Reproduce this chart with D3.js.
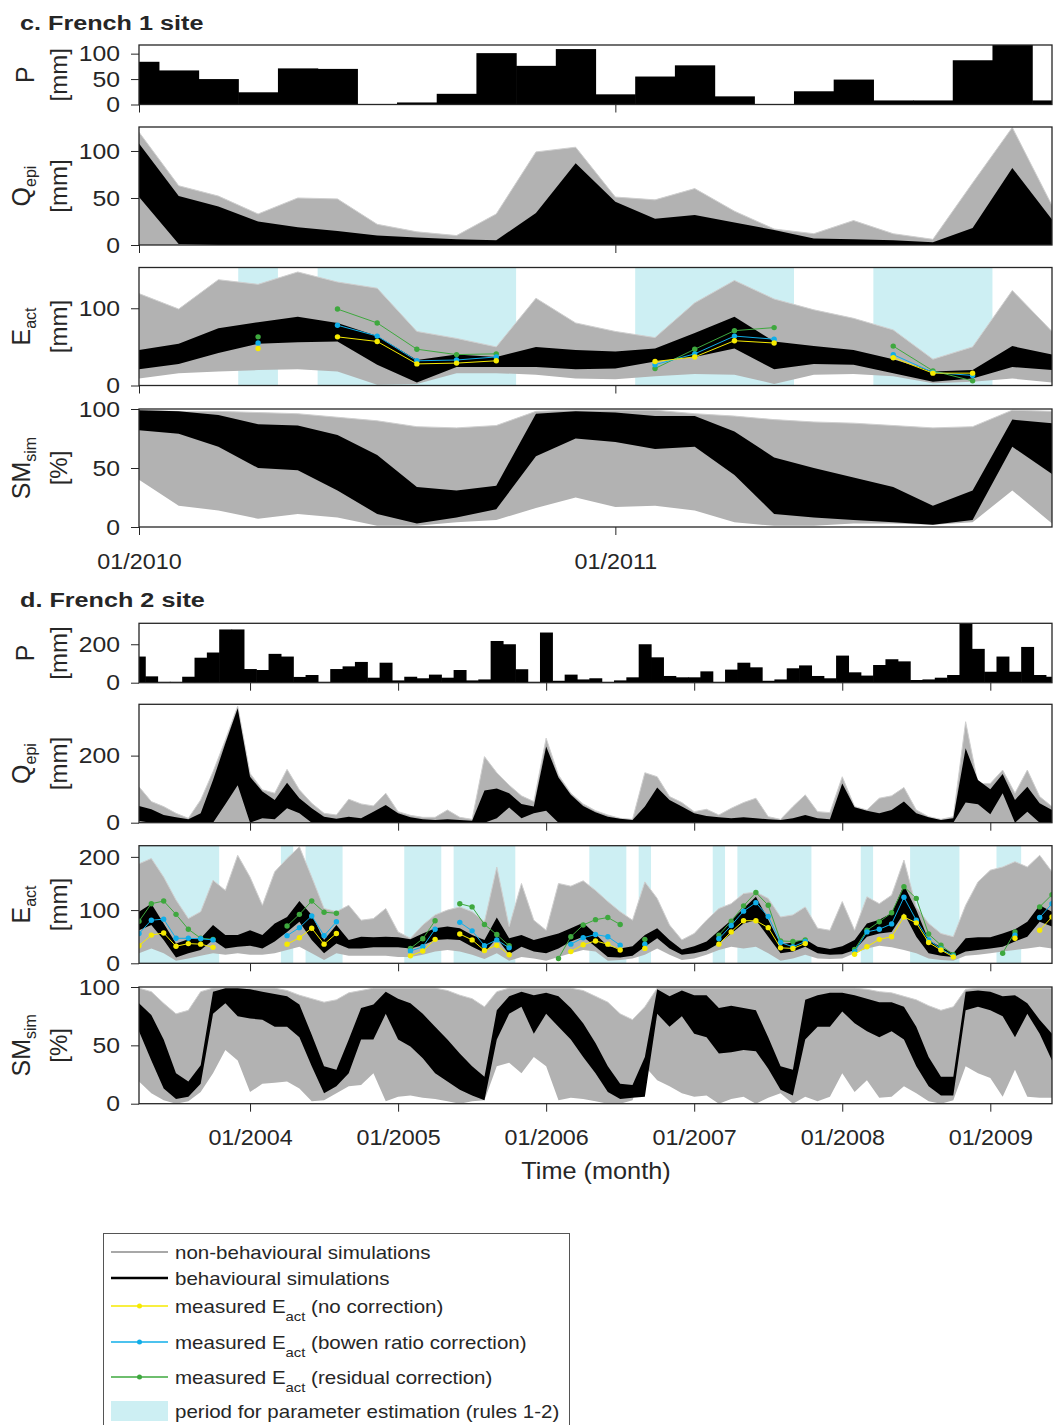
<!DOCTYPE html>
<html>
<head>
<meta charset="utf-8">
<script src="https://cdn.jsdelivr.net/npm/d3@7"></script>
<style>
  body { margin: 0; background: #fff; }
  svg text { font-family: "Liberation Sans", Arial, Helvetica, sans-serif; fill: #262626; }
</style>
</head>
<body>
<svg id="fig" width="1059" height="1425"></svg>
<script>
const _ = null;

// ---------- c. French 1 site : monthly, 01/2010 .. 12/2011 ----------
const cXTicks = [0, 12];
const cXLabels = ["01/2010", "01/2011"];

const cP = [84, 67, 50, 24, 71, 70, 1, 4, 21, 101, 76, 109, 20, 55, 77, 16, 1, 26, 49, 8, 8, 87, 125, 8];

const cQepiGrayHi  = [120, 63, 52, 33, 50, 49, 22, 14, 10, 33, 99, 104, 51, 48, 60, 36, 17, 12, 26, 12, 6, 66, 125, 42];
const cQepiGrayLo  = [0, 0, 0, 0, 0, 0, 0, 0, 0, 0, 0, 0, 0, 0, 0, 0, 0, 0, 0, 0, 0, 0, 0, 0];
const cQepiBlackHi = [108, 52, 41, 25, 19, 15, 10, 8, 6, 5, 34, 87, 46, 28, 32, 24, 16, 7, 6, 5, 3, 18, 82, 27];
const cQepiBlackLo = [51, 1, 0, 0, 0, 0, 0, 0, 0, 0, 0, 0, 0, 0, 0, 0, 0, 0, 0, 0, 0, 0, 0, 0];

const cEactGrayHi  = [119, 99, 137, 131, 147, 134, 126, 70, 61, 50, 113, 81, 70, 62, 107, 136, 112, 98, 87, 72, 34, 50, 123, 70];
const cEactGrayLo  = [9, 16, 18, 20, 21, 18, 1, 2, 16, 16, 14, 9, 8, 12, 15, 14, 2, 14, 15, 12, 3, 5, 9, 4];
const cEactBlackHi = [46, 54, 74, 82, 89, 81, 64, 33, 40, 37, 50, 46, 44, 48, 68, 89, 57, 51, 46, 34, 18, 20, 51, 40];
const cEactBlackLo = [21, 28, 42, 54, 56, 57, 27, 4, 24, 24, 24, 21, 22, 31, 37, 48, 21, 28, 27, 16, 5, 9, 24, 20];

const cEactNoCorr = [_, _, _, 48, _, 63, 57, 28, 29, 32, _, _, _, 31, 37, 58, 55, _, _, 36, 16, 16, _, _];
const cEactBowen  = [_, _, _, 55, _, 78, 64, 32, 33, 37, _, _, _, 27, 41, 64, 60, _, _, 40, 17, 13, _, _];
const cEactResid  = [_, _, _, 63, _, 99, 81, 47, 40, 41, _, _, _, 22, 47, 71, 75, _, _, 51, 19, 6, _, _];

const cSmGrayHi  = [99, 98, 98, 97, 96, 93, 90, 85, 84, 86, 98, 99, 99, 99, 96, 94, 91, 89, 88, 86, 84, 85, 99, 98];
const cSmGrayLo  = [40, 18, 14, 7, 11, 8, 1, 1, 4, 6, 16, 25, 17, 18, 14, 4, 1, 1, 3, 3, 2, 4, 31, 3];
const cSmBlackHi = [99, 98, 95, 87, 86, 78, 61, 34, 31, 35, 96, 98, 97, 94, 94, 81, 59, 50, 42, 34, 18, 31, 91, 88];
const cSmBlackLo = [82, 79, 68, 50, 48, 31, 11, 3, 8, 15, 60, 75, 72, 66, 68, 44, 11, 8, 6, 4, 2, 6, 68, 45];

// calibration windows, in month steps from the first month
const cPeriods = [[2.5, 3.5], [4.5, 9.5], [12.5, 16.5], [18.5, 21.5]];

// ---------- d. French 2 site : monthly, 04/2003 .. 06/2009 ----------
const dXTicks = [9, 21, 33, 45, 57, 69];
const dXLabels = ["01/2004", "01/2005", "01/2006", "01/2007", "01/2008", "01/2009"];

const dP = [136, 33, 5, 5, 31, 130, 157, 277, 277, 71,
            66, 150, 136, 30, 40, 5, 71, 85, 108, 26,
            104, 12, 31, 23, 42, 26, 66, 12, 17, 217,
            200, 70, 5, 261, 10, 42, 17, 23, 5, 12,
            28, 200, 132, 35, 28, 28, 59, 5, 68, 104,
            80, 10, 17, 75, 90, 35, 23, 141, 54, 37,
            92, 122, 111, 14, 17, 26, 40, 310, 176, 57,
            136, 57, 186, 40, 31];

const dQepiGrayHi = [107, 63, 48, 28, 13, 68, 152, 247, 348, 147,
                     98, 88, 159, 98, 58, 28, 23, 70, 56, 50,
                     88, 33, 22, 16, 16, 38, 16, 10, 197, 149,
                     112, 80, 63, 252, 142, 88, 56, 36, 23, 13,
                     10, 149, 137, 78, 60, 33, 40, 23, 43, 60,
                     73, 18, 10, 48, 83, 33, 30, 137, 48, 38,
                     73, 80, 105, 38, 18, 10, 18, 301, 117, 117,
                     157, 88, 157, 78, 48];
const dQepiGrayLo = new Array(75).fill(0);
const dQepiBlackHi = [50, 40, 23, 16, 10, 28, 127, 237, 341, 137,
                      93, 68, 119, 73, 43, 18, 12, 18, 13, 33,
                      53, 28, 16, 10, 8, 10, 8, 6, 96, 102,
                      88, 56, 48, 227, 135, 83, 50, 31, 18, 12,
                      8, 48, 105, 68, 48, 28, 20, 16, 13, 16,
                      13, 10, 8, 13, 23, 13, 10, 117, 46, 36,
                      28, 38, 63, 28, 16, 8, 13, 222, 127, 100,
                      145, 68, 107, 58, 38];
const dQepiBlackLo = [5, 0, 0, 0, 0, 0, 0, 55, 112, 0,
                      13, 10, 43, 28, 0, 0, 0, 0, 0, 0,
                      0, 0, 0, 0, 0, 0, 0, 0, 0, 13,
                      45, 13, 28, 36, 0, 0, 0, 0, 0, 0,
                      0, 0, 0, 0, 0, 0, 0, 0, 0, 0,
                      0, 0, 0, 0, 0, 0, 0, 0, 0, 0,
                      0, 0, 0, 0, 0, 0, 0, 60, 55, 25,
                      88, 0, 33, 0, 0];

const dEactGrayHi = [187, 197, 162, 119, 84, 97, 156, 137, 203, 162,
                     109, 172, 197, 219, 162, 103, 97, 109, 81, 84,
                     103, 59, 47, 72, 91, 100, 106, 97, 78, 181,
                     69, 150, 81, 62, 150, 145, 155, 137, 116, 97,
                     81, 153, 122, 72, 44, 56, 81, 103, 112, 131,
                     134, 122, 87, 91, 106, 66, 62, 116, 62, 125,
                     112, 128, 194, 106, 75, 56, 50, 109, 153, 175,
                     181, 191, 181, 203, 172];
const dEactGrayLo = [19, 28, 19, 5, 9, 14, 19, 16, 19, 16,
                     16, 19, 25, 31, 19, 6, 19, 14, 14, 14,
                     14, 12, 12, 16, 22, 25, 22, 16, 8, 19,
                     5, 12, 9, 5, 12, 19, 25, 22, 5, 6,
                     9, 16, 28, 16, 6, 9, 16, 25, 31, 28,
                     31, 19, 5, 9, 16, 9, 8, 9, 19, 28,
                     33, 30, 25, 19, 9, 6, 5, 14, 16, 19,
                     22, 25, 28, 31, 28];
const dEactBlackHi = [97, 112, 75, 37, 45, 47, 72, 53, 53, 62,
                      53, 75, 87, 117, 91, 44, 72, 44, 50, 49,
                      50, 49, 45, 56, 66, 69, 66, 53, 44, 86,
                      47, 53, 44, 50, 56, 66, 76, 55, 32, 28,
                      32, 53, 66, 44, 26, 32, 41, 61, 81, 103,
                      125, 82, 36, 39, 45, 31, 27, 32, 44, 75,
                      82, 94, 147, 100, 44, 30, 19, 47, 49, 49,
                      56, 64, 78, 109, 97];
const dEactBlackLo = [62, 72, 44, 11, 19, 25, 44, 28, 31, 33,
                      28, 41, 59, 78, 44, 19, 37, 28, 28, 30,
                      30, 30, 28, 34, 44, 45, 44, 31, 20, 47,
                      17, 31, 22, 19, 28, 41, 50, 31, 12, 11,
                      14, 31, 47, 28, 16, 19, 24, 37, 56, 75,
                      81, 50, 19, 22, 31, 19, 16, 17, 25, 50,
                      56, 59, 94, 50, 19, 14, 12, 22, 25, 28,
                      31, 41, 50, 78, 69];

const dEactNoCorr = [33, 53, 57, 32, 37, 36, 30, _, _, _,
                     _, _, 36, 48, 66, 36, 56, _, _, _,
                     _, _, 14, 23, 45, _, 55, 44, 24, 34,
                     16, _, _, _, _, 22, 35, 42, 36, 25,
                     _, 28, _, _, _, _, _, 36, 59, 80,
                     80, 67, 29, 28, 37, _, _, _, 17, 31,
                     45, 50, 87, 76, 39, 25, 12, _, _, _,
                     _, 47, _, 62, 87];
const dEactBowen = [56, 81, 83, 47, 47, 46, 44, _, _, _,
                    _, _, 52, 67, 89, 52, 78, _, _, _,
                    _, _, 23, 31, 64, _, 77, 61, 33, 44,
                    29, _, _, _, _, 36, 48, 54, 50, 34,
                    _, 36, _, _, _, _, _, 46, 71, 98,
                    114, 88, 39, 31, 41, _, _, _, 22, 59,
                    64, 74, 124, 81, 44, 27, 14, _, _, _,
                    _, 53, _, 86, 112];
const dEactResid = [79, 112, 117, 92, 64, 47, 45, _, _, _,
                    _, _, 70, 92, 117, 96, 94, _, _, _,
                    _, _, 28, 46, 80, _, 112, 106, 73, 54,
                    33, _, _, _, 9, 50, 72, 82, 86, 73,
                    _, 45, _, _, _, _, _, 53, 79, 108,
                    133, 109, 42, 41, 44, _, _, _, 26, 62,
                    78, 95, 144, 122, 55, 34, 16, _, _, _,
                    19, 59, _, 106, 129];

const dSmGrayHi = [99, 96, 86, 77, 80, 96, 99, 99, 99, 99,
                   99, 99, 97, 93, 90, 87, 89, 95, 97, 99,
                   99, 99, 99, 99, 99, 97, 93, 90, 83, 96,
                   99, 99, 99, 99, 99, 99, 97, 92, 87, 77,
                   72, 83, 99, 99, 99, 99, 99, 99, 99, 99,
                   99, 99, 99, 99, 99, 99, 99, 99, 99, 98,
                   96, 95, 92, 89, 84, 80, 83, 98, 99, 99,
                   99, 99, 99, 99, 99];
const dSmGrayLo = [19, 9, 3, 0, 2, 10, 26, 46, 37, 10,
                   17, 18, 19, 13, 2, 3, 9, 15, 16, 26,
                   2, 6, 7, 5, 4, 2, 0, 2, 3, 32,
                   35, 26, 40, 32, 3, 5, 4, 2, 0, 0,
                   3, 32, 20, 15, 9, 6, 7, 0, 4, 6,
                   0, 5, 9, 0, 6, 2, 6, 26, 10, 20,
                   5, 6, 15, 9, 2, 0, 3, 32, 26, 22,
                   6, 29, 6, 5, 5];
const dSmBlackHi = [86, 76, 55, 26, 19, 33, 96, 99, 99, 98,
                    96, 94, 92, 85, 59, 32, 29, 55, 82, 85,
                    96, 90, 86, 77, 66, 55, 43, 32, 23, 80,
                    92, 96, 93, 95, 92, 82, 69, 52, 32, 17,
                    16, 40, 98, 92, 97, 93, 93, 82, 84, 82,
                    80, 57, 32, 29, 89, 93, 95, 95, 93, 90,
                    87, 87, 83, 66, 40, 23, 23, 96, 97, 96,
                    92, 93, 86, 72, 60];
const dSmBlackLo = [62, 37, 13, 4, 6, 17, 77, 86, 75, 73,
                    72, 66, 66, 57, 32, 9, 15, 26, 55, 55,
                    77, 55, 49, 39, 26, 19, 12, 7, 3, 55,
                    77, 83, 60, 77, 66, 55, 40, 26, 10, 4,
                    5, 6, 77, 66, 75, 60, 57, 43, 44, 46,
                    45, 30, 12, 7, 55, 66, 66, 79, 69, 62,
                    57, 62, 55, 32, 15, 7, 7, 80, 83, 80,
                    75, 57, 77, 60, 37];

const dPeriods = [[-0.5, 6.5], [11.5, 12.5], [13.5, 16.5], [21.5, 24.5], [25.5, 30.5],
                  [36.5, 39.5], [40.5, 41.5], [46.5, 47.5], [48.5, 54.5], [58.5, 59.5],
                  [62.5, 66.5], [69.5, 71.5]];

// ---------- drawing ----------
const GRAY = "#b2b2b2", BLACK = "#000000", CYAN = "#cdeff3";
const YELLOW = "#f6ea00", BLUE = "#10aee9", GREEN = "#3ea83e";
const AXIS = "#262626";
const X0 = 139, X1 = 1052;

const svg = d3.select("#fig");
let clipN = 0;

// widen lettering horizontally around its anchor point
function widen(sel, sx) {
  sel.each(function () {
    const t = d3.select(this);
    const x = +t.attr("x") || 0, y = +t.attr("y") || 0;
    t.attr("transform", `translate(${x},${y}) scale(${sx},1)`).attr("x", 0).attr("y", 0);
  });
}

function drawPanel(o) {
  const n = o.n;
  const x = d3.scaleLinear().domain([0, n - 1]).range([X0, X1]);
  const y = d3.scaleLinear().domain([0, o.yMax]).range([o.bottom, o.top]);
  const id = "clip" + (clipN++);
  svg.append("clipPath").attr("id", id).append("rect")
    .attr("x", X0).attr("y", o.top).attr("width", X1 - X0).attr("height", o.bottom - o.top);
  const g = svg.append("g").attr("clip-path", `url(#${id})`);

  if (o.periods) {
    g.selectAll(null).data(o.periods).join("rect")
      .attr("x", d => x(d[0])).attr("width", d => x(d[1]) - x(d[0]))
      .attr("y", o.top).attr("height", o.bottom - o.top).attr("fill", CYAN);
  }
  if (o.bars) {
    const step = x(1) - x(0);
    g.selectAll(null).data(o.bars).join("rect")
      .attr("x", (d, i) => x(i) - step / 2).attr("width", step + 0.6)
      .attr("y", d => y(d)).attr("height", d => y(0) - y(d)).attr("fill", BLACK);
  }
  const band = (lo, hi, fill) => {
    const area = d3.area().x((d, i) => x(i)).y0((d, i) => y(lo[i])).y1(d => y(d));
    g.append("path").datum(hi).attr("d", area).attr("fill", fill);
  };
  if (o.gray) {
    band(o.gray[0], o.gray[1], GRAY);
    // light fringe of the outermost simulations
    const edge = d3.line().x((d, i) => x(i)).y(d => y(d));
    g.append("path").datum(o.gray[1]).attr("d", edge).attr("fill", "none")
      .attr("stroke", "#cfcfcf").attr("stroke-width", 1);
  }
  if (o.black) band(o.black[0], o.black[1], BLACK);

  if (o.measured) {
    o.measured.forEach(([vals, col]) => {
      const line = d3.line().defined(d => d != null).x((d, i) => x(i)).y(d => y(d));
      g.append("path").datum(vals).attr("d", line).attr("fill", "none")
        .attr("stroke", col).attr("stroke-width", 1);
      g.selectAll(null).data(vals.map((v, i) => [i, v]).filter(d => d[1] != null)).join("circle")
        .attr("cx", d => x(d[0])).attr("cy", d => y(d[1])).attr("r", 2.7).attr("fill", col);
    });
  }

  // y axis
  const ya = svg.append("g").attr("transform", `translate(${X0},0)`)
    .call(d3.axisLeft(y).tickValues(o.yTicks).tickSize(8).tickPadding(11).tickSizeOuter(0));
  ya.select(".domain").remove();
  ya.selectAll("line").attr("stroke", AXIS);
  ya.selectAll("text").style("font-size", "22.5px").attr("fill", AXIS).call(widen, 1.1);

  // x axis (ticks on every panel, labels below the last one)
  const xa = svg.append("g").attr("transform", `translate(0,${o.bottom})`)
    .call(d3.axisBottom(x).tickValues(o.xTicks).tickSize(8).tickPadding(18).tickSizeOuter(0)
      .tickFormat((d, i) => o.showLabels ? o.xLabels[i] : ""));
  xa.select(".domain").remove();
  xa.selectAll("line").attr("stroke", AXIS);
  xa.selectAll("text").style("font-size", "22px").attr("fill", AXIS).call(widen, 1.06);

  // frame
  svg.append("rect").attr("x", X0).attr("y", o.top).attr("width", X1 - X0).attr("height", o.bottom - o.top)
    .attr("fill", "none").attr("stroke", AXIS).attr("stroke-width", 1.3);

  // y label (two lines, rotated)
  const cy = (o.top + o.bottom) / 2;
  const t1 = svg.append("text").attr("transform", `translate(${o.lab[3]},${cy}) rotate(-90)`)
    .attr("text-anchor", "middle").style("font-size", "25px");
  t1.append("tspan").text(o.lab[0]);
  if (o.lab[1]) t1.append("tspan").attr("dy", 6).style("font-size", "16px").text(o.lab[1]);
  svg.append("text").attr("transform", `translate(67,${cy}) rotate(-90)`)
    .attr("text-anchor", "middle").style("font-size", "24px").text(o.lab[2]);
}

function section(s) {
  const common = { n: s.P.length, xTicks: s.xTicks, xLabels: s.xLabels };
  drawPanel({ ...common, top: s.tops[0], bottom: s.bots[0], yMax: s.yMax[0], yTicks: s.yTicks[0],
    bars: s.P, lab: ["P", "", "[mm]", 34] });
  drawPanel({ ...common, top: s.tops[1], bottom: s.bots[1], yMax: s.yMax[1], yTicks: s.yTicks[1],
    gray: s.Q[0], black: s.Q[1], lab: ["Q", "epi", "[mm]", 30] });
  drawPanel({ ...common, top: s.tops[2], bottom: s.bots[2], yMax: s.yMax[2], yTicks: s.yTicks[2],
    periods: s.periods, gray: s.E[0], black: s.E[1], measured: s.meas, lab: ["E", "act", "[mm]", 30] });
  drawPanel({ ...common, top: s.tops[3], bottom: s.bots[3], yMax: s.yMax[3], yTicks: s.yTicks[3],
    gray: s.S[0], black: s.S[1], showLabels: true, lab: ["SM", "sim", "[%]", 30] });
  svg.append("text").attr("x", 20).attr("y", s.titleY).style("font-size", "21px")
    .style("font-weight", "bold").attr("fill", "#111").text(s.title).call(widen, 1.2);
}

section({
  title: "c. French 1 site", titleY: 29.5,
  P: cP, xTicks: cXTicks, xLabels: cXLabels,
  tops: [45, 127, 267.5, 409], bots: [104.5, 245, 385.5, 527],
  yMax: [117, 125.5, 152.8, 100],
  yTicks: [[0, 50, 100], [0, 50, 100], [0, 100], [0, 50, 100]],
  Q: [[cQepiGrayLo, cQepiGrayHi], [cQepiBlackLo, cQepiBlackHi]],
  E: [[cEactGrayLo, cEactGrayHi], [cEactBlackLo, cEactBlackHi]],
  S: [[cSmGrayLo, cSmGrayHi], [cSmBlackLo, cSmBlackHi]],
  periods: cPeriods,
  meas: [[cEactResid, GREEN], [cEactBowen, BLUE], [cEactNoCorr, YELLOW]]
});

section({
  title: "d. French 2 site", titleY: 607,
  P: dP, xTicks: dXTicks, xLabels: dXLabels,
  tops: [623.3, 704.3, 845.7, 987], bots: [682.7, 822.7, 963.3, 1103.7],
  yMax: [309, 353, 221, 100],
  yTicks: [[0, 200], [0, 200], [0, 100, 200], [0, 50, 100]],
  Q: [[dQepiGrayLo, dQepiGrayHi], [dQepiBlackLo, dQepiBlackHi]],
  E: [[dEactGrayLo, dEactGrayHi], [dEactBlackLo, dEactBlackHi]],
  S: [[dSmGrayLo, dSmGrayHi], [dSmBlackLo, dSmBlackHi]],
  periods: dPeriods,
  meas: [[dEactResid, GREEN], [dEactBowen, BLUE], [dEactNoCorr, YELLOW]]
});

svg.append("text").attr("x", 596).attr("y", 1179).attr("text-anchor", "middle")
  .style("font-size", "23px").text("Time (month)").call(widen, 1.1);

// ---------- legend ----------
const legendItems = [
  { kind: "line", color: "#a8a8a8", w: 2.2, text: ["non-behavioural simulations"] },
  { kind: "line", color: "#000", w: 2.4, text: ["behavioural simulations"] },
  { kind: "dot", color: YELLOW, w: 1.3, text: ["measured E", "act", " (no correction)"] },
  { kind: "dot", color: BLUE, w: 1.3, text: ["measured E", "act", " (bowen ratio correction)"] },
  { kind: "dot", color: GREEN, w: 1.3, text: ["measured E", "act", " (residual correction)"] },
  { kind: "rect", color: CYAN, text: ["period for parameter estimation (rules 1-2)"] }
];
const legendY = [1252, 1278, 1306, 1342, 1377, 1411];
const lg = svg.append("g");
lg.append("rect").attr("x", 103.5).attr("y", 1233.5).attr("width", 466).attr("height", 220)
  .attr("fill", "#fff").attr("stroke", "#555").attr("stroke-width", 1);
legendItems.forEach((it, k) => {
  const yy = legendY[k];
  if (it.kind === "rect") {
    lg.append("rect").attr("x", 111).attr("y", yy - 10).attr("width", 57).attr("height", 20).attr("fill", it.color);
  } else {
    lg.append("line").attr("x1", 111).attr("x2", 168).attr("y1", yy).attr("y2", yy)
      .attr("stroke", it.color).attr("stroke-width", it.w);
    if (it.kind === "dot") lg.append("circle").attr("cx", 139.5).attr("cy", yy).attr("r", 2.5).attr("fill", it.color);
  }
  const t = lg.append("text").attr("x", 175).attr("y", yy + 6.5).style("font-size", "18px");
  t.append("tspan").text(it.text[0]);
  if (it.text.length > 1) {
    t.append("tspan").attr("dy", 8).style("font-size", "13px").text(it.text[1]);
    t.append("tspan").attr("dy", -8).text(it.text[2]);
  }
  t.call(widen, 1.14);
});
</script>
</body>
</html>
